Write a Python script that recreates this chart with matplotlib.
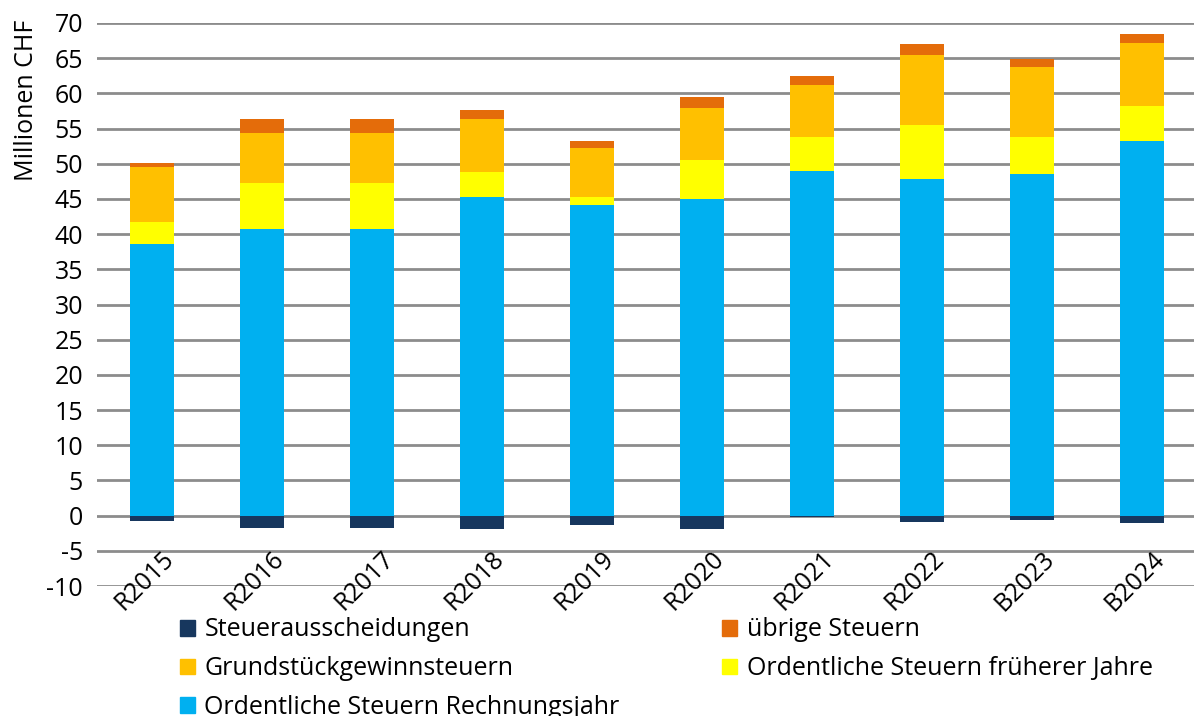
import numpy as np
import matplotlib.pyplot as plt
from matplotlib.patches import Patch

plt.rcParams['font.family'] = ['Open Sans', 'DejaVu Sans']
plt.rcParams['axes.unicode_minus'] = False

years = ['R2015', 'R2016', 'R2017', 'R2018', 'R2019', 'R2020', 'R2021', 'R2022', 'B2023', 'B2024']
# Millionen CHF
rechnungsjahr = [38.6, 40.7, 40.7, 45.3, 44.1, 45.0, 48.9, 47.9, 48.6, 53.2]
fruehere = [3.1, 6.5, 6.5, 3.5, 1.2, 5.5, 4.9, 7.6, 5.2, 5.0]
grundstueck = [7.9, 7.2, 7.2, 7.6, 7.0, 7.4, 7.4, 9.9, 9.9, 9.0]
uebrige = [0.5, 2.0, 2.0, 1.3, 1.0, 1.6, 1.3, 1.6, 1.2, 1.3]
ausscheidungen = [-0.8, -1.8, -1.8, -1.9, -1.4, -1.9, -0.2, -0.9, -0.6, -1.0]

c_blue = '#00B0F0'
c_yellow = '#FFFF00'
c_orange = '#FFC000'
c_dorange = '#E46C0A'
c_navy = '#17375E'

fig = plt.figure(figsize=(11.94, 7.16), dpi=100)
ax = fig.add_axes([97 / 1194, 1 - 586 / 716, 1100 / 1194, 563 / 716])

x = np.arange(len(years))
w = 0.4
b1 = np.array(rechnungsjahr)
b2 = b1 + np.array(fruehere)
b3 = b2 + np.array(grundstueck)

ax.bar(x, ausscheidungen, w, color=c_navy, zorder=3)
ax.bar(x, rechnungsjahr, w, color=c_blue, zorder=3)
ax.bar(x, fruehere, w, bottom=b1, color=c_yellow, zorder=3)
ax.bar(x, grundstueck, w, bottom=b2, color=c_orange, zorder=3)
ax.bar(x, uebrige, w, bottom=b3, color=c_dorange, zorder=3)

ax.set_xlim(-0.5, 9.5)
ax.set_ylim(-10, 70)
ax.set_yticks(np.arange(-10, 71, 5))
ax.yaxis.grid(True, color='#8C8C8C', linewidth=2)
ax.set_axisbelow(True)
for s in ax.spines.values():
    s.set_visible(False)
ax.tick_params(axis='y', length=0, labelsize=18, pad=10)
ax.set_xticks([])

# category labels sit inside the plot area, rotated
for i, yr in enumerate(years):
    ax.text(i + 0.09, -4.4, yr, rotation=45, rotation_mode='anchor',
            ha='right', va='top', fontsize=18)

fig.text(0.022, 1 - 100 / 716, 'Millionen CHF', rotation=90, va='center', ha='center', fontsize=18)

handles = [Patch(color=c_navy), Patch(color=c_orange), Patch(color=c_blue),
           Patch(color=c_dorange), Patch(color=c_yellow)]
labels = ['Steuerausscheidungen', 'Grundstückgewinnsteuern', 'Ordentliche Steuern Rechnungsjahr',
          'übrige Steuern', 'Ordentliche Steuern früherer Jahre']
fig.legend(handles, labels, ncol=2, loc='upper left', bbox_to_anchor=(167 / 1194, 1 - 605 / 716),
           frameon=False, fontsize=18, handlelength=0.6, handleheight=0.6, handletextpad=0.4,
           columnspacing=4.1, labelspacing=0.55, borderpad=0)

fig.savefig('out.png', dpi=100)
